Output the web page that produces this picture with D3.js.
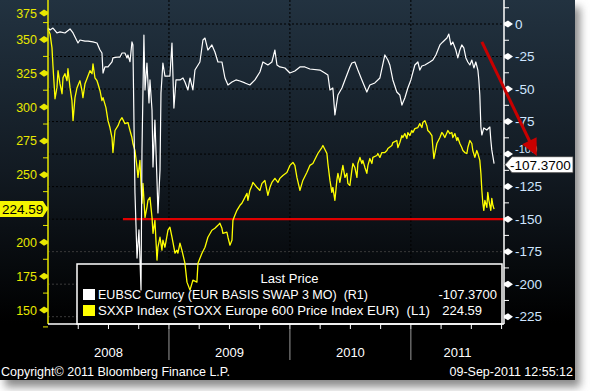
<!DOCTYPE html>
<html><head><meta charset="utf-8">
<script src="https://cdn.jsdelivr.net/npm/d3@7"></script>
<style>html,body{margin:0;padding:0;background:#fff;}svg{display:block;font-family:"Liberation Sans",Arial,sans-serif;}</style>
</head><body><svg id="c" width="590" height="391"></svg>
<script>
// ---- data (decimal year, value) ----
const sxxpSeries = [[2008.000,357.8],[2008.017,354.1],[2008.033,343.8],[2008.041,330.6],[2008.058,306.2],[2008.074,314.4],[2008.083,326.9],[2008.099,317.3],[2008.116,309.9],[2008.124,321.7],[2008.140,324.7],[2008.157,319.5],[2008.165,328.4],[2008.182,314.4],[2008.198,304.8],[2008.207,290.0],[2008.223,307.0],[2008.240,314.4],[2008.264,319.5],[2008.281,312.1],[2008.289,307.0],[2008.306,317.3],[2008.322,321.0],[2008.347,326.9],[2008.364,324.7],[2008.372,332.0],[2008.388,321.7],[2008.405,319.5],[2008.413,317.3],[2008.430,312.1],[2008.446,304.8],[2008.455,307.0],[2008.479,299.6],[2008.496,290.0],[2008.512,284.9],[2008.529,277.5],[2008.537,266.4],[2008.554,282.7],[2008.579,286.3],[2008.595,290.0],[2008.612,292.2],[2008.636,287.8],[2008.661,288.6],[2008.678,282.7],[2008.694,277.5],[2008.702,273.1],[2008.719,267.9],[2008.736,255.4],[2008.744,248.0],[2008.760,260.6],[2008.777,228.9],[2008.785,243.6],[2008.802,218.5],[2008.818,225.9],[2008.826,231.1],[2008.843,233.3],[2008.860,218.5],[2008.868,206.7],[2008.884,216.3],[2008.901,186.9],[2008.909,196.4],[2008.926,203.8],[2008.942,194.2],[2008.950,201.6],[2008.967,196.4],[2008.992,209.0],[2009.008,211.2],[2009.025,203.8],[2009.050,192.0],[2009.066,194.2],[2009.074,192.0],[2009.091,199.4],[2009.107,194.2],[2009.132,184.6],[2009.149,170.6],[2009.174,164.7],[2009.198,172.1],[2009.231,170.6],[2009.240,184.6],[2009.273,192.0],[2009.298,196.4],[2009.322,203.8],[2009.355,209.0],[2009.380,210.4],[2009.405,212.6],[2009.421,214.1],[2009.438,210.4],[2009.446,206.7],[2009.479,207.5],[2009.488,203.8],[2009.504,197.9],[2009.521,201.6],[2009.529,216.3],[2009.545,220.0],[2009.562,223.7],[2009.587,227.4],[2009.603,228.9],[2009.628,233.3],[2009.645,236.2],[2009.653,231.1],[2009.669,238.4],[2009.686,242.1],[2009.694,244.3],[2009.727,240.7],[2009.752,238.4],[2009.769,243.6],[2009.777,244.3],[2009.793,245.8],[2009.818,234.8],[2009.835,240.7],[2009.851,244.3],[2009.876,247.3],[2009.901,244.3],[2009.917,247.3],[2009.942,249.5],[2009.975,251.7],[2010.000,256.9],[2010.025,259.1],[2010.041,256.9],[2010.058,248.0],[2010.083,238.4],[2010.107,245.8],[2010.140,251.7],[2010.165,256.9],[2010.190,258.3],[2010.231,265.7],[2010.264,270.1],[2010.273,271.6],[2010.306,265.7],[2010.314,258.3],[2010.331,245.8],[2010.347,237.0],[2010.355,240.7],[2010.372,231.1],[2010.388,245.8],[2010.397,251.0],[2010.413,244.3],[2010.430,253.2],[2010.438,256.9],[2010.455,248.0],[2010.471,251.0],[2010.479,243.6],[2010.496,242.1],[2010.512,253.2],[2010.521,258.3],[2010.537,255.4],[2010.554,248.0],[2010.562,258.3],[2010.579,262.8],[2010.595,258.3],[2010.603,260.6],[2010.620,255.4],[2010.636,251.0],[2010.645,256.9],[2010.661,262.0],[2010.678,258.3],[2010.686,262.8],[2010.719,264.2],[2010.727,265.7],[2010.744,262.8],[2010.760,266.4],[2010.785,266.4],[2010.802,267.9],[2010.810,269.4],[2010.843,271.6],[2010.851,273.8],[2010.884,275.3],[2010.893,270.1],[2010.909,273.8],[2010.926,279.0],[2010.934,277.5],[2010.950,280.4],[2010.967,276.8],[2010.975,281.2],[2010.992,279.0],[2011.008,282.7],[2011.017,281.2],[2011.033,284.1],[2011.058,284.9],[2011.074,287.8],[2011.091,284.9],[2011.099,288.6],[2011.116,290.0],[2011.132,286.3],[2011.140,282.7],[2011.157,281.2],[2011.174,279.0],[2011.182,270.1],[2011.190,262.0],[2011.215,273.1],[2011.240,277.5],[2011.256,281.2],[2011.264,280.4],[2011.281,277.5],[2011.306,282.7],[2011.322,280.4],[2011.339,281.2],[2011.347,277.5],[2011.364,280.4],[2011.380,275.3],[2011.388,277.5],[2011.405,273.1],[2011.421,270.1],[2011.430,267.9],[2011.446,266.4],[2011.463,265.7],[2011.471,270.1],[2011.488,275.3],[2011.504,273.1],[2011.512,267.9],[2011.529,262.8],[2011.545,267.9],[2011.554,265.7],[2011.570,260.6],[2011.579,251.0],[2011.587,238.4],[2011.595,228.9],[2011.603,223.7],[2011.612,231.1],[2011.628,225.9],[2011.636,237.0],[2011.645,231.1],[2011.661,223.7],[2011.669,232.5],[2011.678,227.4],[2011.688,224.59]];

const eubscSeries = [[2008.000,-3.1],[2008.017,-4.6],[2008.041,-3.1],[2008.074,-6.9],[2008.099,-6.1],[2008.140,-6.9],[2008.182,-3.8],[2008.207,-6.9],[2008.248,-14.6],[2008.264,-12.3],[2008.306,-13.1],[2008.331,-13.1],[2008.372,-13.8],[2008.405,-14.6],[2008.430,-20.0],[2008.446,-22.3],[2008.455,-37.7],[2008.471,-33.0],[2008.496,-33.0],[2008.529,-29.2],[2008.537,-26.1],[2008.570,-25.4],[2008.595,-25.4],[2008.612,-22.3],[2008.636,-22.3],[2008.653,-26.1],[2008.661,-23.8],[2008.678,-29.0],[2008.694,-13.8],[2008.702,-16.1],[2008.719,-129.9],[2008.736,-179.9],[2008.752,-158.3],[2008.769,-204.4],[2008.777,-96.8],[2008.793,-8.5],[2008.802,-50.7],[2008.818,-30.0],[2008.835,-60.7],[2008.843,-43.0],[2008.860,-66.1],[2008.868,-109.9],[2008.884,-73.8],[2008.901,-119.9],[2008.909,-145.3],[2008.926,-112.2],[2008.934,-53.0],[2008.950,-30.0],[2008.967,-40.0],[2009.008,-40.0],[2009.025,-14.6],[2009.041,-64.6],[2009.058,-43.0],[2009.091,-43.0],[2009.116,-41.5],[2009.132,-44.6],[2009.157,-50.7],[2009.174,-41.5],[2009.198,-50.7],[2009.215,-35.4],[2009.256,-29.2],[2009.281,-12.3],[2009.298,-10.8],[2009.322,-20.0],[2009.355,-16.1],[2009.380,-21.5],[2009.405,-29.2],[2009.438,-29.2],[2009.463,-41.5],[2009.488,-46.9],[2009.521,-44.6],[2009.554,-43.0],[2009.587,-43.8],[2009.628,-45.3],[2009.669,-46.9],[2009.711,-43.0],[2009.752,-36.9],[2009.777,-29.2],[2009.818,-31.5],[2009.851,-29.2],[2009.876,-20.0],[2009.893,-31.5],[2009.917,-33.0],[2009.959,-33.8],[2010.000,-37.7],[2010.041,-36.1],[2010.083,-33.0],[2010.124,-33.0],[2010.165,-34.6],[2010.248,-35.4],[2010.289,-37.7],[2010.314,-39.2],[2010.331,-50.7],[2010.355,-49.2],[2010.372,-69.9],[2010.397,-54.6],[2010.430,-49.2],[2010.455,-43.0],[2010.496,-33.0],[2010.512,-30.0],[2010.537,-29.2],[2010.562,-35.4],[2010.595,-43.0],[2010.636,-52.3],[2010.661,-46.9],[2010.702,-45.3],[2010.744,-41.5],[2010.785,-23.8],[2010.810,-27.7],[2010.826,-31.5],[2010.851,-43.0],[2010.884,-52.3],[2010.909,-54.6],[2010.926,-62.3],[2010.950,-56.9],[2010.975,-49.2],[2011.000,-43.0],[2011.033,-31.5],[2011.058,-29.2],[2011.074,-35.4],[2011.091,-32.3],[2011.116,-31.5],[2011.157,-29.2],[2011.182,-27.7],[2011.207,-23.8],[2011.240,-16.1],[2011.264,-13.8],[2011.298,-10.8],[2011.314,-7.7],[2011.331,-16.1],[2011.347,-13.8],[2011.372,-20.0],[2011.388,-26.1],[2011.405,-20.0],[2011.421,-16.1],[2011.438,-18.4],[2011.455,-26.1],[2011.471,-29.2],[2011.488,-31.5],[2011.504,-27.7],[2011.521,-33.8],[2011.537,-29.2],[2011.554,-35.4],[2011.562,-43.0],[2011.570,-54.6],[2011.579,-79.2],[2011.587,-85.3],[2011.603,-79.9],[2011.628,-81.5],[2011.653,-79.2],[2011.661,-89.2],[2011.669,-96.8],[2011.688,-107.37]];

const yearLabels = [2008, 2009, 2010, 2011];
const leftTicks = [150,175,200,225,250,275,300,325,350,375];
const rightTicks = [0,-25,-50,-75,-100,-125,-150,-175,-200,-225];
const lastSxxp = 224.59, lastSxxpText = "224.59";
const lastEubsc = -107.37, lastEubscText = "-107.3700";
const supportLevel = -150, supportStart = 2008.62;
const arrowFrom = [2011.587, -13.8], arrowTo = [2012.041, -101.5];
const legendTitle = "Last Price";
const legendNames = ["EUBSC Curncy (EUR BASIS SWAP 3 MO)  (R1)", "SXXP Index (STOXX Europe 600 Price Index EUR)  (L1)"];
const legendValues = ["-107.3700", "224.59"];
const copyrightText = "Copyright\u00A9 2011 Bloomberg Finance L.P.";
const stampText = "09-Sep-2011 12:55:12";

// ---- layout ----
const PW = 575, PH = 380;
const L = 48, R = 504, B = 324;
const x = d3.scaleLinear().domain([2008, 2011.77]).range([L, R]);
const yL = d3.scaleLinear().domain([150, 325]).range([310, 73.3]);
const yR = d3.scaleLinear().domain([0, -225]).range([24, 316.7]);

const svg = d3.select("#c");
const defs = svg.append("defs");
const g = defs.append("linearGradient").attr("id","bg").attr("x1",0).attr("y1",0).attr("x2",0).attr("y2",1);
g.append("stop").attr("offset","0").attr("stop-color","#223240");
g.append("stop").attr("offset","0.45").attr("stop-color","#121a22");
g.append("stop").attr("offset","0.85").attr("stop-color","#000");
g.append("stop").attr("offset","1").attr("stop-color","#000");
const f = defs.append("filter").attr("id","sh").attr("x","-10%").attr("y","-10%").attr("width","130%").attr("height","130%");
f.append("feGaussianBlur").attr("stdDeviation",4);

// shadow + panel
svg.append("rect").attr("x",5).attr("y",7).attr("width",PW).attr("height",PH).attr("fill","#8a8a8a").attr("filter","url(#sh)");
svg.append("rect").attr("x",0).attr("y",0).attr("width",PW).attr("height",PH).attr("fill","url(#bg)");

// gridlines
svg.append("g").selectAll("line").data(rightTicks).join("line")
  .attr("x1",L).attr("x2",R).attr("y1",d=>yR(d)).attr("y2",d=>yR(d))
  .attr("stroke",d=>yR(d)<230?"#000":"#3a3a3a").attr("stroke-width",1).attr("stroke-dasharray","2,2");
svg.append("g").selectAll("line").data(yearLabels.slice(1)).join("line")
  .attr("x1",d=>x(d)).attr("x2",d=>x(d)).attr("y1",0).attr("y2",B)
  .attr("stroke","#000").attr("stroke-width",1).attr("stroke-dasharray","2,2");

// legend box (under lines)
const LG = {x0:77, x1:502, y0:264, y1:B};
svg.append("rect").attr("x",LG.x0).attr("y",LG.y0).attr("width",LG.x1-LG.x0).attr("height",LG.y1-LG.y0)
  .attr("fill","#000").attr("stroke","#fff").attr("stroke-width",1.5);

// support line
svg.append("line").attr("x1",x(supportStart)).attr("x2",R+1).attr("y1",yR(supportLevel)).attr("y2",yR(supportLevel))
  .attr("stroke","#e00000").attr("stroke-width",2.2);

// series
const lineL = d3.line().x(d=>x(d[0])).y(d=>yL(d[1]));
const lineR = d3.line().x(d=>x(d[0])).y(d=>yR(d[1]));
svg.append("path").attr("d",lineL(sxxpSeries)).attr("fill","none").attr("stroke","#ffff00").attr("stroke-width",1.3).attr("stroke-linejoin","round");
svg.append("path").attr("d",lineR(eubscSeries)).attr("fill","none").attr("stroke","#ffffff").attr("stroke-width",1.2).attr("stroke-linejoin","round");

// legend text
svg.append("text").attr("x",(LG.x0+LG.x1)/2).attr("y",283).attr("text-anchor","middle").attr("fill","#fff").attr("font-size",13).text(legendTitle);
const legendColors = ["#ffffff","#ffff00"];
const legendX = [497, 482];
const legendLen = [270, 332];
legendNames.forEach((n,i)=>{
  const yy = 299 + i*16;
  svg.append("rect").attr("x",83).attr("y",yy-10).attr("width",12).attr("height",11).attr("fill",legendColors[i]);
  svg.append("text").attr("x",98).attr("y",yy).attr("fill","#fff").attr("font-size",13)
    .attr("textLength",legendLen[i]).attr("lengthAdjust","spacingAndGlyphs")
    .attr("xml:space","preserve").style("white-space","pre").text(n);
  svg.append("text").attr("x",legendX[i]).attr("y",yy).attr("text-anchor","end").attr("fill","#fff").attr("font-size",13).text(legendValues[i]);
});

// left axis
svg.append("line").attr("x1",L).attr("x2",L).attr("y1",0).attr("y2",B).attr("stroke","#e8e800").attr("stroke-width",1.5);
const lt = svg.append("g");
leftTicks.forEach(v=>{
  const yy = Math.max(yL(v), 13);
  lt.append("path").attr("d",`M39,${yy} L44,${yy-3.5} L48,${yy-1.2} L48,${yy+1.2} L44,${yy+3.5} Z`).attr("fill","#e8e800");
  // label hidden where the last-value box sits (as in the reference)
  if (Math.abs(yL(v) - yL(lastSxxp)) > 10)
    lt.append("text").attr("x",37).attr("y",yy+4.5).attr("text-anchor","end").attr("fill","#e8e800").attr("font-size",12.5).text(v);
  const m = yL(v+12.5);
  if (m>2) lt.append("line").attr("x1",43).attr("x2",48).attr("y1",m).attr("y2",m).attr("stroke","#e8e800").attr("stroke-width",1);
});
lt.append("line").attr("x1",43).attr("x2",48).attr("y1",yL(137.5)).attr("y2",yL(137.5)).attr("stroke","#e8e800");

// right axis
svg.append("line").attr("x1",R).attr("x2",R).attr("y1",0).attr("y2",B).attr("stroke","#fff").attr("stroke-width",1.5);
const rt = svg.append("g");
rightTicks.forEach(v=>{
  const yy = yR(v);
  const near = Math.abs(yy - yR(lastEubsc)) < 14;
  rt.append("path").attr("d",`M513,${yy} L508,${yy-3.5} L504,${yy-1.2} L504,${yy+1.2} L508,${yy+3.5} Z`).attr("fill","#fff");
  rt.append("text").attr("x",515).attr("y",near ? yy-1.5 : yy+4.5).attr("fill","#cfe6ff").attr("font-size",near?11:13.5).text(v);
  const m = yR(v-12.5);
  if (m < B) rt.append("line").attr("x1",504).attr("x2",509).attr("y1",m).attr("y2",m).attr("stroke","#fff");
});
rt.append("line").attr("x1",504).attr("x2",509).attr("y1",yR(12.5)).attr("y2",yR(12.5)).attr("stroke","#fff");

// bottom axis
svg.append("line").attr("x1",L).attr("x2",R).attr("y1",B).attr("y2",B).attr("stroke","#fff").attr("stroke-width",1.5);
const q = d3.range(2008.25, 2011.76, 0.25);
svg.append("g").selectAll("line").data(q).join("line")
  .attr("x1",d=>x(d)).attr("x2",d=>x(d)).attr("y1",B).attr("y2",B+5).attr("stroke","#fff");
svg.append("g").selectAll("line").data(yearLabels.slice(1)).join("line")
  .attr("x1",d=>x(d)).attr("x2",d=>x(d)).attr("y1",B+5).attr("y2",360).attr("stroke","#9a9a9a");
svg.append("g").selectAll("text").data(yearLabels).join("text")
  .attr("x",d=>(x(d)+Math.min(x(d+1),R))/2).attr("y",357).attr("text-anchor","middle")
  .attr("fill","#fff").attr("font-size",13).text(d=>d);

svg.append("text").attr("x",1).attr("y",376).attr("fill","#fff").attr("font-size",12.5).text(copyrightText);
svg.append("text").attr("x",573).attr("y",376).attr("text-anchor","end").attr("fill","#fff").attr("font-size",12.5).text(stampText);

// last value boxes
const ys = yL(lastSxxp);
svg.append("path").attr("d",`M0,${ys-8} H43 L48,${ys} L43,${ys+8} H0 Z`).attr("fill","#f5f500");
svg.append("text").attr("x",2).attr("y",ys+5).attr("fill","#000").attr("font-size",13.5).text(lastSxxpText);
const ye = yR(lastEubsc) + 1;
svg.append("path").attr("d",`M505,${ye} L512,${ye-8} H573 V${ye+8} H512 Z`).attr("fill","#fff").attr("stroke","#444").attr("stroke-width",0.8);
svg.append("text").attr("x",510).attr("y",ye+5).attr("fill","#000").attr("font-size",13.5).text(lastEubscText);

// arrow annotation
const ax0 = x(arrowFrom[0]), ay0 = yR(arrowFrom[1]), ax1 = x(arrowTo[0]), ay1 = yR(arrowTo[1]);
const dx = ax1-ax0, dy = ay1-ay0, len = Math.hypot(dx,dy), ux = dx/len, uy = dy/len;
const hl = 17, hw = 8;
const bx = ax1-ux*hl, by = ay1-uy*hl;
svg.append("line").attr("x1",ax0).attr("y1",ay0).attr("x2",bx+ux*2).attr("y2",by+uy*2).attr("stroke","#c80000").attr("stroke-width",3);
svg.append("path").attr("d",`M${ax1},${ay1} L${bx-uy*hw},${by+ux*hw} L${bx+uy*hw},${by-ux*hw} Z`).attr("fill","#c80000");
</script></body></html>
